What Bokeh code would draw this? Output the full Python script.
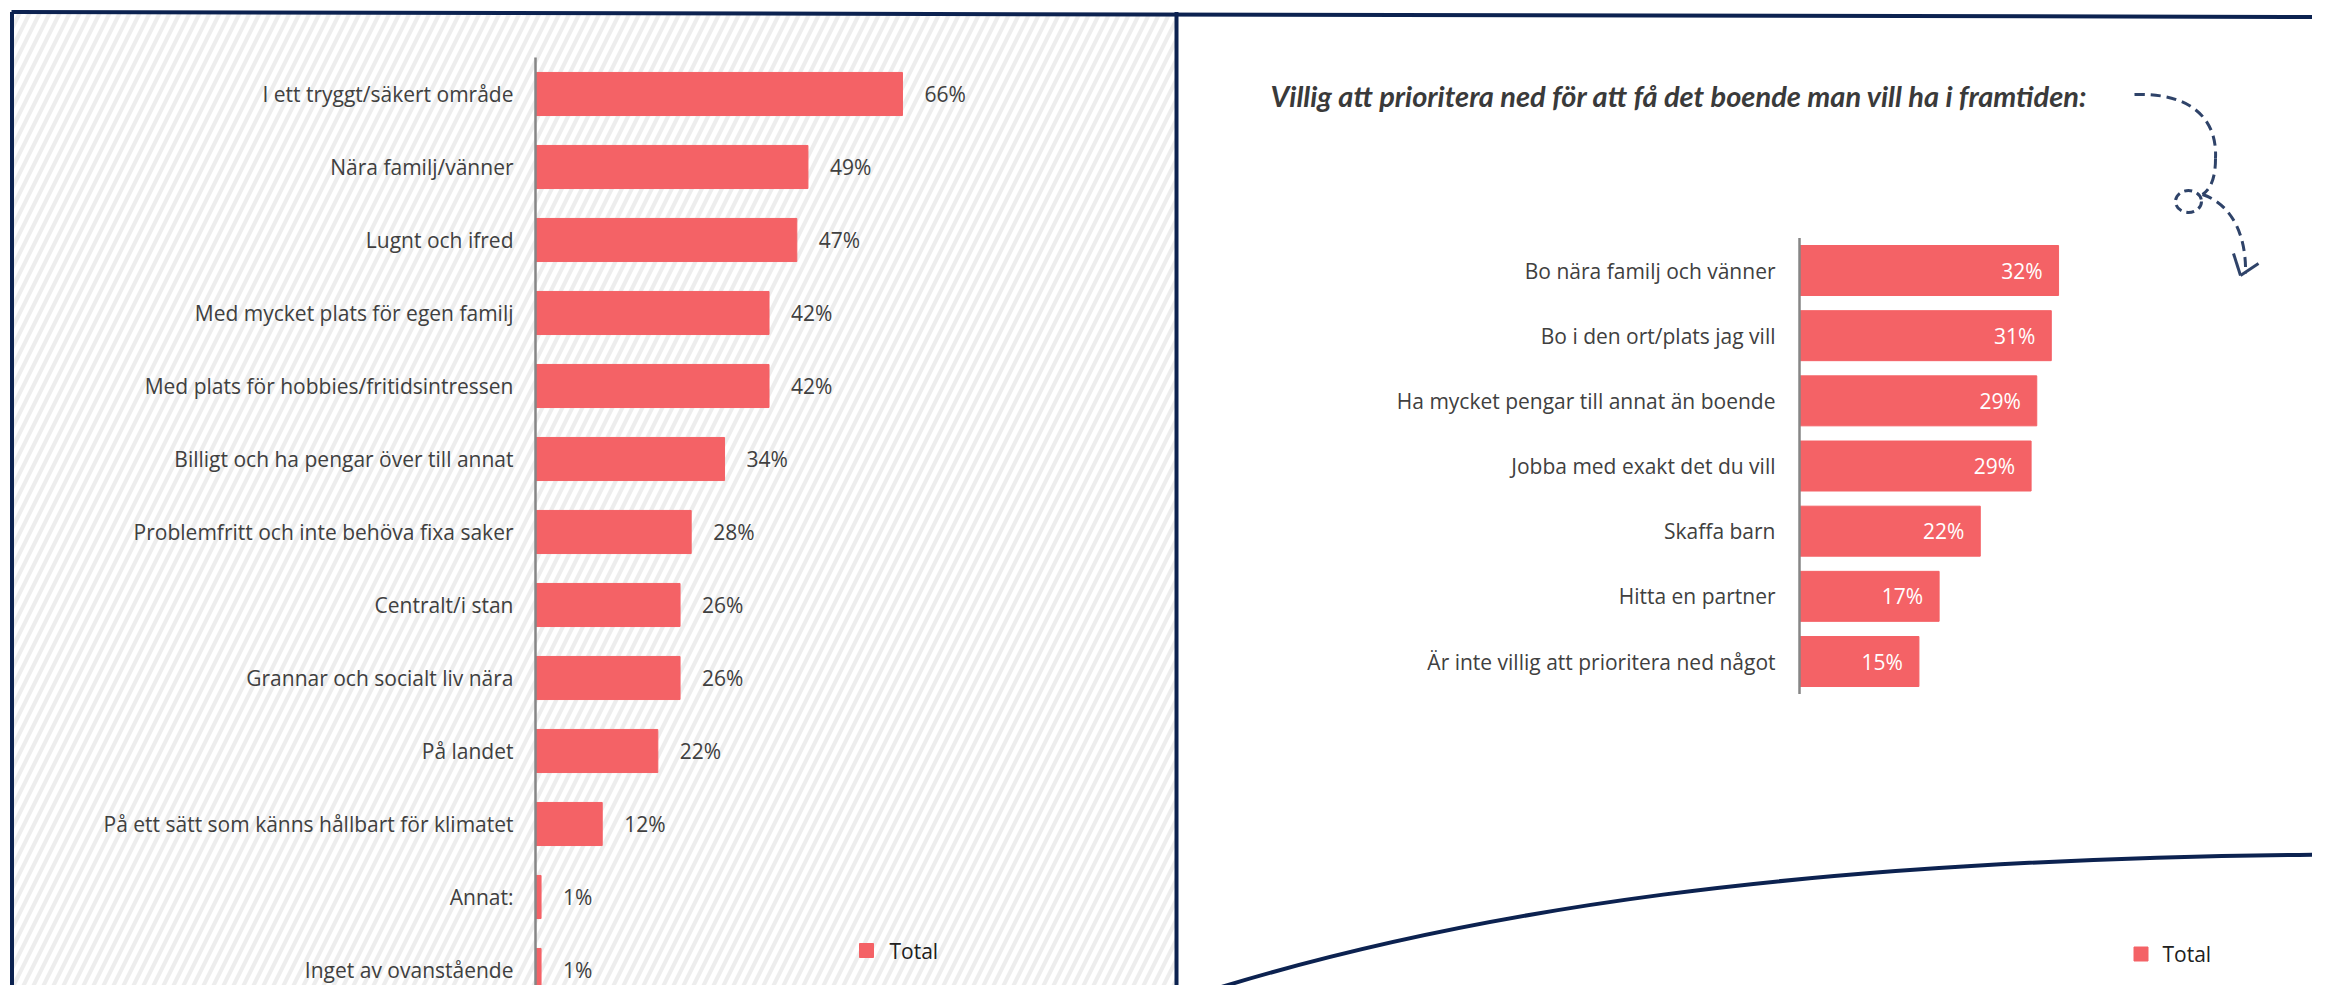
from bokeh.plotting import figure
from bokeh.models import Range1d, ColumnDataSource
from bokeh.core.properties import value
from bokeh.embed import file_html
from bokeh.resources import INLINE

# ---------------- data ----------------
left_categories = [
    "I ett tryggt/säkert område",
    "Nära familj/vänner",
    "Lugnt och ifred",
    "Med mycket plats för egen familj",
    "Med plats för hobbies/fritidsintressen",
    "Billigt och ha pengar över till annat",
    "Problemfritt och inte behöva fixa saker",
    "Centralt/i stan",
    "Grannar och socialt liv nära",
    "På landet",
    "På ett sätt som känns hållbart för klimatet",
    "Annat:",
    "Inget av ovanstående",
]
left_values = [66, 49, 47, 42, 42, 34, 28, 26, 26, 22, 12, 1, 1]

right_categories = [
    "Bo nära familj och vänner",
    "Bo i den ort/plats jag vill",
    "Ha mycket pengar till annat än boende",
    "Jobba med exakt det du vill",
    "Skaffa barn",
    "Hitta en partner",
    "Är inte villig att prioritera ned något",
]
right_values = [32.1, 31.2, 29.4, 28.7, 22.4, 17.3, 14.8]

series_name = "Total"
title_text = "Villig att prioritera ned för att få det boende man vill ha i framtiden:"

# ---------------- styles ----------------
W, H = 2312, 985
RED = "#F46266"
NAVY = "#0C2250"
TXT = "#404040"
AXIS = "#868686"
ARROW = "#2F4369"
FONT = value("Open Sans")
FS = "21px"

p = figure(width=W, height=H, x_range=Range1d(0, W), y_range=Range1d(H, 0),
           output_backend="svg", toolbar_location=None, min_border=0)
p.axis.visible = False
p.grid.visible = False
p.outline_line_color = None
p.background_fill_color = "white"
p.border_fill_color = "white"

# layout constants (pixels)
LA_X0, LA_K, LA_Y0, LA_STEP = 535.0, 5.56, 93.5, 73.0
RA_X0, RA_K, RA_Y0, RA_STEP = 1799.0, 8.07, 270.0, 65.17

p.extra_x_ranges["lx"] = Range1d(-LA_X0 / LA_K, (W - LA_X0) / LA_K)
p.extra_y_ranges["ly"] = Range1d((H - LA_Y0) / LA_STEP, -LA_Y0 / LA_STEP)
p.extra_x_ranges["rx"] = Range1d(-RA_X0 / RA_K, (W - RA_X0) / RA_K)
p.extra_y_ranges["ry"] = Range1d((H - RA_Y0) / RA_STEP, -RA_Y0 / RA_STEP)

# ---------------- background decorations ----------------
p.quad(left=13, right=1175, top=13, bottom=H + 20, fill_color="white", line_color=None,
       hatch_pattern="/", hatch_color="#EDEDED", hatch_weight=4, hatch_scale=20)
p.line([11, 2328], [11.5, 16.5], line_color=NAVY, line_width=4)
p.line([11.5, 11.5], [11.5, H + 20], line_color=NAVY, line_width=4)
p.line([1176, 1176], [11.5, H + 20], line_color=NAVY, line_width=4)
p.bezier(x0=[1175], y0=[1001], x1=[2328], y1=[854], cx0=[1458], cy0=[908],
         cx1=[1808], cy1=[858], line_color=NAVY, line_width=4)

# dashed arrow
p.bezier(x0=[2134], y0=[94], x1=[2215], y1=[158], cx0=[2190], cy0=[92],
         cx1=[2217], cy1=[118], line_color=ARROW, line_width=3, line_dash="10 6")
p.bezier(x0=[2215], y0=[158], x1=[2202], y1=[194], cx0=[2215], cy0=[176],
         cx1=[2211], cy1=[188], line_color=ARROW, line_width=3, line_dash="10 6")
p.ellipse(x=[2188], y=[201], width=26, height=22, fill_color=None,
          line_color=ARROW, line_width=3, line_dash="8 5")
p.bezier(x0=[2202], y0=[194], x1=[2245], y1=[273], cx0=[2232], cy0=[204],
         cx1=[2246], cy1=[236], line_color=ARROW, line_width=3, line_dash="10 6")
p.segment(x0=[2233, 2258], y0=[253, 263], x1=[2240, 2240], y1=[275, 275],
          line_color=ARROW, line_width=3)

# title
p.text(x=[1270], y=[95], text=[title_text], text_font=value("Lato"),
       text_font_style="bold italic", text_font_size="29px", text_color="#3A3A3A",
       text_baseline="middle", text_align="left")

# ---------------- left chart ----------------
lsrc = ColumnDataSource(dict(
    idx=list(range(len(left_categories))),
    cat=left_categories,
    val=left_values,
    lab=[f"{v:.0f}%" for v in left_values],
))
p.hbar(y="idx", left=0, right="val", height=0.59, source=lsrc,
       fill_color=RED, line_color=RED, x_range_name="lx", y_range_name="ly")
p.segment(x0=[0], y0=[-0.5], x1=[0], y1=[len(left_categories) - 0.5],
          line_color=AXIS, line_width=2.5, x_range_name="lx", y_range_name="ly")
p.text(x=0, y="idx", text="cat", source=lsrc, x_offset=-22, text_align="right",
       text_baseline="middle", text_font=FONT, text_font_size=FS, text_color=TXT,
       x_range_name="lx", y_range_name="ly")
p.text(x="val", y="idx", text="lab", source=lsrc, x_offset=22, text_align="left",
       text_baseline="middle", text_font=FONT, text_font_size=FS, text_color=TXT,
       x_range_name="lx", y_range_name="ly")

# ---------------- right chart ----------------
rsrc = ColumnDataSource(dict(
    idx=list(range(len(right_categories))),
    cat=right_categories,
    val=right_values,
    lab=[f"{v:.0f}%" for v in right_values],
))
p.hbar(y="idx", left=0, right="val", height=0.767, source=rsrc,
       fill_color=RED, line_color=RED, x_range_name="rx", y_range_name="ry")
p.segment(x0=[0], y0=[-0.5], x1=[0], y1=[len(right_categories) - 0.5],
          line_color=AXIS, line_width=2.5, x_range_name="rx", y_range_name="ry")
p.text(x=0, y="idx", text="cat", source=rsrc, x_offset=-24, text_align="right",
       text_baseline="middle", text_font=FONT, text_font_size=FS, text_color=TXT,
       x_range_name="rx", y_range_name="ry")
p.text(x="val", y="idx", text="lab", source=rsrc, x_offset=-16, text_align="right",
       text_baseline="middle", text_font=FONT, text_font_size=FS, text_color="white",
       x_range_name="rx", y_range_name="ry")

# ---------------- legends ----------------
p.scatter(x=[866, 2140.5], y=[950, 953.5], marker="square", size=14,
          fill_color=RED, line_color=RED)
p.text(x=[889, 2162], y=[950, 953.5], text=[series_name, series_name],
       text_font=FONT, text_font_size=FS, text_color="#202020",
       text_baseline="middle", text_align="left")

open("out.html", "w").write(file_html(p, INLINE))
